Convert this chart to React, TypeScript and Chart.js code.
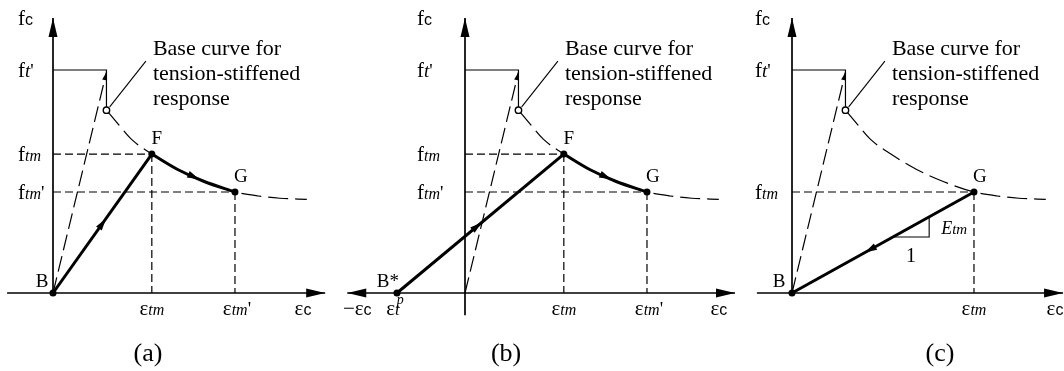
import { useEffect, useRef } from "react";
import { Chart, registerables } from "chart.js";

Chart.register(...registerables);

// ---- canvas / scale layout ----
const WIDTH = 1064;
const HEIGHT = 371;
const PX_PER_STRAIN = 54; // pixels per unit of normalised strain
const PX_PER_STRESS = 223; // pixels per unit of normalised stress
const AXIS_ROW_PX = 293; // pixel row of the strain axis

// ---- values: strain normalised by the cracking strain, stress by f't ----
const baseCurveStrain = [0.99, 1.2, 1.45, 1.83, 2.3, 2.8, 3.37, 3.8, 4.2, 4.7];
const baseCurveStress = [0.82, 0.76, 0.69, 0.623, 0.555, 0.5, 0.453, 0.435, 0.425, 0.42];
const F_INDEX = 3; // point F on the base curve
const G_INDEX = 6; // point G on the base curve
const crackingStrain = 0.99;
const tensileStrength = 1.0;
const elasticTipStress = 0.99;
const plasticStrain = -1.26; // ε_t^p, location of B*
const slopeLegStrain = [1.87, 2.54]; // horizontal leg of the E_tm slope triangle
const leaderStart = [1.05, 0.835];
const leaderEnd = [1.72, 1.04];
const noteAnchor = [1.85, 1.067];
const noteLines = ["Base curve for", "tension-stiffened", "response"];

type PanelKey = "a" | "b" | "c";
const panelKeys: PanelKey[] = ["a", "b", "c"];
const panelOriginPx: Record<PanelKey, number> = { a: 53, b: 465, c: 792 };
const strainAxisRange: Record<PanelKey, number[]> = { a: [-0.85, 5.04], b: [-2.18, 5.0], c: [-0.65, 5.02] };
const stressAxisRange: Record<PanelKey, number[]> = { a: [0, 1.233], b: [-0.1, 1.233], c: [0, 1.233] };
const stressLabelOffsetPx: Record<PanelKey, number> = { a: -35, b: -48, c: -37 };
const strainAxisLabelAt: Record<PanelKey, number> = { a: 4.63, b: 4.7, c: 4.87 };
const captionAt: Record<PanelKey, number> = { a: 1.76, b: 0.76, c: 2.74 };
const captions: Record<PanelKey, string> = { a: "(a)", b: "(b)", c: "(c)" };

// ---- styling ----
const SERIF = '"Liberation Serif", "Times New Roman", serif';
const font = (size: number, italic = false) => `${italic ? "italic " : ""}${size}px ${SERIF}`;
const SANS_SUB = '16px "Liberation Sans", Arial, sans-serif';

type Pt = { x: number; y: number };
type Arrow = { t: number; len: number; half: number; back?: boolean };
type Part = { text: string; font: string; dx?: number; dy?: number; over?: boolean };
type Label = {
  p: PanelKey;
  x: number;
  y: number;
  dx: number;
  dy: number;
  parts: Part[];
  align: "left" | "center" | "right";
};

const AXIS_HEAD = { len: 19, half: 4.5 };
const MID_HEAD = { len: 12, half: 3.5 };
const TIP_HEAD = { len: 8, half: 2.5 };

function lineSet(
  p: PanelKey,
  data: Pt[],
  style: { width: number; order: number; dash?: number[]; smooth?: boolean; arrows?: Arrow[] }
) {
  return {
    xAxisID: `x${p}`,
    yAxisID: "y",
    data,
    showLine: true,
    borderColor: "#000",
    backgroundColor: "#000",
    borderWidth: style.width,
    borderDash: style.dash || [],
    borderCapStyle: "butt",
    borderJoinStyle: "miter",
    pointRadius: 0,
    pointHoverRadius: 0,
    fill: false,
    clip: false,
    tension: 0,
    cubicInterpolationMode: style.smooth ? "monotone" : "default",
    order: style.order,
    arrows: style.arrows || [],
  };
}

function dotSet(p: PanelKey, data: Pt[], open = false) {
  return {
    xAxisID: `x${p}`,
    yAxisID: "y",
    data,
    showLine: false,
    pointRadius: open ? 3.2 : 3.5,
    pointHoverRadius: open ? 3.2 : 3.5,
    pointBackgroundColor: open ? "#fff" : "#000",
    pointBorderColor: "#000",
    pointBorderWidth: open ? 1.4 : 0,
    clip: false,
    order: 0,
  };
}

const curve: Pt[] = baseCurveStrain.map((x, i) => ({ x, y: baseCurveStress[i] }));
const F = curve[F_INDEX];
const G = curve[G_INDEX];
const ORIGIN: Pt = { x: 0, y: 0 };

function buildDatasets() {
  const sets: any[] = [];
  for (const p of panelKeys) {
    const [x0, x1] = strainAxisRange[p];
    const [y0, y1] = stressAxisRange[p];
    // axes
    sets.push(
      lineSet(p, [{ x: x0, y: 0 }, { x: x1, y: 0 }], {
        width: 1.7,
        order: 4,
        arrows: p === "b" ? [{ t: 0, back: true, ...AXIS_HEAD }, { t: 1, ...AXIS_HEAD }] : [{ t: 1, ...AXIS_HEAD }],
      })
    );
    sets.push(lineSet(p, [{ x: 0, y: y0 }, { x: 0, y: y1 }], { width: 1.7, order: 4, arrows: [{ t: 1, ...AXIS_HEAD }] }));
    // f't plateau and drop to the base curve
    sets.push(
      lineSet(
        p,
        [
          { x: 0, y: tensileStrength },
          { x: crackingStrain, y: tensileStrength },
          { x: curve[0].x, y: curve[0].y },
        ],
        { width: 1.2, order: 3 }
      )
    );
    // linear-elastic branch
    sets.push(
      lineSet(p, [ORIGIN, { x: crackingStrain, y: elasticTipStress }], {
        width: 1.2,
        order: 3,
        dash: [16, 6],
        arrows: [{ t: 1, ...TIP_HEAD }],
      })
    );
    // base curve for tension-stiffened response
    sets.push(lineSet(p, curve, { width: 1.2, order: 3, dash: [20, 7], smooth: true }));
    // leader line for the note
    sets.push(
      lineSet(p, [{ x: leaderStart[0], y: leaderStart[1] }, { x: leaderEnd[0], y: leaderEnd[1] }], { width: 1.1, order: 3 })
    );

    const guidePoints = p === "c" ? [G] : [F, G];
    for (const q of guidePoints) {
      sets.push(lineSet(p, [{ x: 0, y: q.y }, q], { width: 1.2, order: 3, dash: [8, 4] }));
      sets.push(lineSet(p, [q, { x: q.x, y: 0 }], { width: 1.2, order: 3, dash: [8, 4] }));
    }

    if (p === "a" || p === "b") {
      const start: Pt = p === "a" ? ORIGIN : { x: plasticStrain, y: 0 };
      sets.push(lineSet(p, [start, F], { width: 3, order: 1, arrows: [{ t: p === "a" ? 0.5 : 0.48, ...MID_HEAD }] }));
      sets.push(
        lineSet(p, curve.slice(F_INDEX, G_INDEX + 1), {
          width: 3,
          order: 1,
          smooth: true,
          arrows: [{ t: 0.52, ...MID_HEAD }],
        })
      );
      sets.push(dotSet(p, [start, F, G]));
    } else {
      // unloading from G back to B with slope E_tm
      sets.push(lineSet(p, [G, ORIGIN], { width: 3, order: 1, arrows: [{ t: 0.57, ...MID_HEAD }] }));
      const k = G.y / G.x;
      const [s1, s2] = slopeLegStrain;
      sets.push(
        lineSet(
          p,
          [
            { x: s1, y: k * s1 },
            { x: s2, y: k * s1 },
            { x: s2, y: k * s2 },
          ],
          { width: 1.1, order: 2 }
        )
      );
      sets.push(dotSet(p, [ORIGIN, G]));
    }
    sets.push(dotSet(p, [curve[0]], true));
  }
  return sets;
}

const sym = (main: string, sub: string, prime = false): Part[] => [
  { text: main, font: font(21) },
  { text: sub, font: font(16, true) },
  ...(prime ? [{ text: "'", font: font(19) }] : []),
];

function buildLabels(): Label[] {
  const labels: Label[] = [];
  for (const p of panelKeys) {
    const lx = stressLabelOffsetPx[p];
    const top = stressAxisRange[p][1];
    labels.push({ p, x: 0, y: top, dx: lx, dy: 7, align: "left", parts: [{ text: "f", font: font(21) }, { text: "c", font: SANS_SUB }] });
    labels.push({
      p,
      x: 0,
      y: tensileStrength,
      dx: lx,
      dy: 7,
      align: "left",
      parts: [
        { text: "f", font: font(21) },
        { text: "t", font: font(19, true) },
        { text: "'", font: font(19) },
      ],
    });
    if (p === "c") {
      labels.push({ p, x: 0, y: G.y, dx: lx, dy: 7, align: "left", parts: sym("f", "tm") });
      labels.push({ p, x: G.x, y: 0, dx: 0, dy: 22, align: "center", parts: sym("ε", "tm") });
    } else {
      labels.push({ p, x: 0, y: F.y, dx: lx, dy: 7, align: "left", parts: sym("f", "tm") });
      labels.push({ p, x: 0, y: G.y, dx: lx, dy: 7, align: "left", parts: sym("f", "tm", true) });
      labels.push({ p, x: F.x, y: 0, dx: 0, dy: 22, align: "center", parts: sym("ε", "tm") });
      labels.push({ p, x: G.x, y: 0, dx: 2, dy: 22, align: "center", parts: sym("ε", "tm", true) });
      labels.push({ p, x: F.x, y: F.y, dx: 5, dy: -10, align: "center", parts: [{ text: "F", font: font(19) }] });
    }
    labels.push({ p, x: G.x, y: G.y, dx: 6, dy: -10, align: "center", parts: [{ text: "G", font: font(19) }] });
    labels.push({
      p,
      x: strainAxisLabelAt[p],
      y: 0,
      dx: 0,
      dy: 22,
      align: "center",
      parts: [{ text: "ε", font: font(21) }, { text: "c", font: SANS_SUB }],
    });
    labels.push({ p, x: captionAt[p], y: 0, dx: 0, dy: 68, align: "center", parts: [{ text: captions[p], font: font(26) }] });

    if (p === "b") {
      labels.push({ p, x: plasticStrain, y: 0, dx: -9, dy: -6, align: "center", parts: [{ text: "B*", font: font(19) }] });
      labels.push({
        p,
        x: strainAxisRange.b[0],
        y: 0,
        dx: 10,
        dy: 22,
        align: "center",
        parts: [{ text: "−ε", font: font(21) }, { text: "c", font: SANS_SUB }],
      });
      labels.push({
        p,
        x: plasticStrain,
        y: 0,
        dx: -4,
        dy: 22,
        align: "center",
        parts: [
          { text: "ε", font: font(21) },
          { text: "t", font: font(17, true) },
          { text: "p", font: font(14, true), dx: -3, dy: -11, over: true },
        ],
      });
    } else {
      labels.push({ p, x: 0, y: 0, dx: p === "a" ? -11 : -13, dy: -6, align: "center", parts: [{ text: "B", font: font(19) }] });
    }

    if (p === "c") {
      const k = G.y / G.x;
      const [s1, s2] = slopeLegStrain;
      labels.push({
        p,
        x: s2,
        y: (k * s1 + k * s2) / 2,
        dx: 12,
        dy: 7,
        align: "left",
        parts: [
          { text: "E", font: font(18, true) },
          { text: "tm", font: font(15, true) },
        ],
      });
      labels.push({ p, x: (s1 + s2) / 2, y: k * s1, dx: 0, dy: 25, align: "center", parts: [{ text: "1", font: font(20) }] });
    }

    noteLines.forEach((line, i) => {
      labels.push({
        p,
        x: noteAnchor[0],
        y: noteAnchor[1],
        dx: 0,
        dy: i * 25,
        align: "left",
        parts: [{ text: line, font: font(22) }],
      });
    });
  }
  return labels;
}

function pointAlong(pts: Pt[], t: number) {
  const segs: number[] = [];
  let total = 0;
  for (let i = 1; i < pts.length; i++) {
    const l = Math.hypot(pts[i].x - pts[i - 1].x, pts[i].y - pts[i - 1].y);
    segs.push(l);
    total += l;
  }
  let rem = t * total;
  for (let i = 0; i < segs.length; i++) {
    const a = pts[i];
    const b = pts[i + 1];
    if (rem <= segs[i] || i === segs.length - 1) {
      const f = segs[i] > 0 ? Math.min(1, rem / segs[i]) : 0;
      return { x: a.x + (b.x - a.x) * f, y: a.y + (b.y - a.y) * f, ang: Math.atan2(b.y - a.y, b.x - a.x) };
    }
    rem -= segs[i];
  }
  return { x: pts[0].x, y: pts[0].y, ang: 0 };
}

function drawHead(ctx: CanvasRenderingContext2D, x: number, y: number, ang: number, len: number, half: number) {
  const c = Math.cos(ang);
  const s = Math.sin(ang);
  const bx = x - len * c;
  const by = y - len * s;
  ctx.beginPath();
  ctx.moveTo(x, y);
  ctx.lineTo(bx - half * s, by + half * c);
  ctx.lineTo(bx + half * s, by - half * c);
  ctx.closePath();
  ctx.fill();
}

function drawRich(ctx: CanvasRenderingContext2D, parts: Part[], x: number, y: number, align: string) {
  let width = 0;
  for (const part of parts) {
    if (part.over) continue;
    ctx.font = part.font;
    width += ctx.measureText(part.text).width;
  }
  let cx = align === "center" ? x - width / 2 : align === "right" ? x - width : x;
  ctx.textBaseline = "alphabetic";
  ctx.textAlign = "left";
  for (const part of parts) {
    ctx.font = part.font;
    ctx.fillText(part.text, cx + (part.dx || 0), y + (part.dy || 0));
    if (!part.over) cx += ctx.measureText(part.text).width;
  }
}

export default function App() {
  const canvasRef = useRef<HTMLCanvasElement | null>(null);

  useEffect(() => {
    const canvas = canvasRef.current;
    if (!canvas) return;
    const labels = buildLabels();

    const overlay = {
      id: "overlay",
      afterDatasetsDraw(chart: any) {
        const ctx: CanvasRenderingContext2D = chart.ctx;
        const ys = chart.scales.y;
        ctx.save();
        ctx.fillStyle = "#000";
        chart.data.datasets.forEach((ds: any) => {
          if (!ds.arrows || !ds.arrows.length) return;
          const xs = chart.scales[ds.xAxisID];
          const pts = ds.data.map((d: Pt) => ({ x: xs.getPixelForValue(d.x), y: ys.getPixelForValue(d.y) }));
          for (const a of ds.arrows as Arrow[]) {
            const at = pointAlong(pts, a.t);
            const ang = at.ang + (a.back ? Math.PI : 0);
            let tx = at.x;
            let ty = at.y;
            if (a.t > 0 && a.t < 1) {
              tx += (Math.cos(ang) * a.len) / 2;
              ty += (Math.sin(ang) * a.len) / 2;
            }
            drawHead(ctx, tx, ty, ang, a.len, a.half);
          }
        });
        for (const l of labels) {
          const xs = chart.scales[`x${l.p}`];
          drawRich(ctx, l.parts, xs.getPixelForValue(l.x) + l.dx, ys.getPixelForValue(l.y) + l.dy, l.align);
        }
        ctx.restore();
      },
    };

    const scales: any = {
      y: {
        type: "linear",
        axis: "y",
        display: false,
        min: -(HEIGHT - AXIS_ROW_PX) / PX_PER_STRESS,
        max: AXIS_ROW_PX / PX_PER_STRESS,
      },
    };
    for (const p of panelKeys) {
      scales[`x${p}`] = {
        type: "linear",
        axis: "x",
        position: "bottom",
        display: false,
        min: -panelOriginPx[p] / PX_PER_STRAIN,
        max: (WIDTH - panelOriginPx[p]) / PX_PER_STRAIN,
      };
    }

    const chart = new Chart(canvas, {
      type: "scatter",
      data: { datasets: buildDatasets() },
      options: {
        responsive: false,
        maintainAspectRatio: false,
        animation: false,
        devicePixelRatio: 1,
        events: [],
        layout: { padding: 0, autoPadding: false },
        plugins: {
          legend: { display: false },
          tooltip: { enabled: false },
          title: { display: false },
        },
        scales,
      } as any,
      plugins: [overlay],
    });
    return () => chart.destroy();
  }, []);

  return (
    <div style={{ position: "fixed", left: 0, top: 0, width: WIDTH, height: HEIGHT, background: "#fff" }}>
      <canvas ref={canvasRef} width={WIDTH} height={HEIGHT} style={{ display: "block", width: WIDTH, height: HEIGHT }} />
    </div>
  );
}
